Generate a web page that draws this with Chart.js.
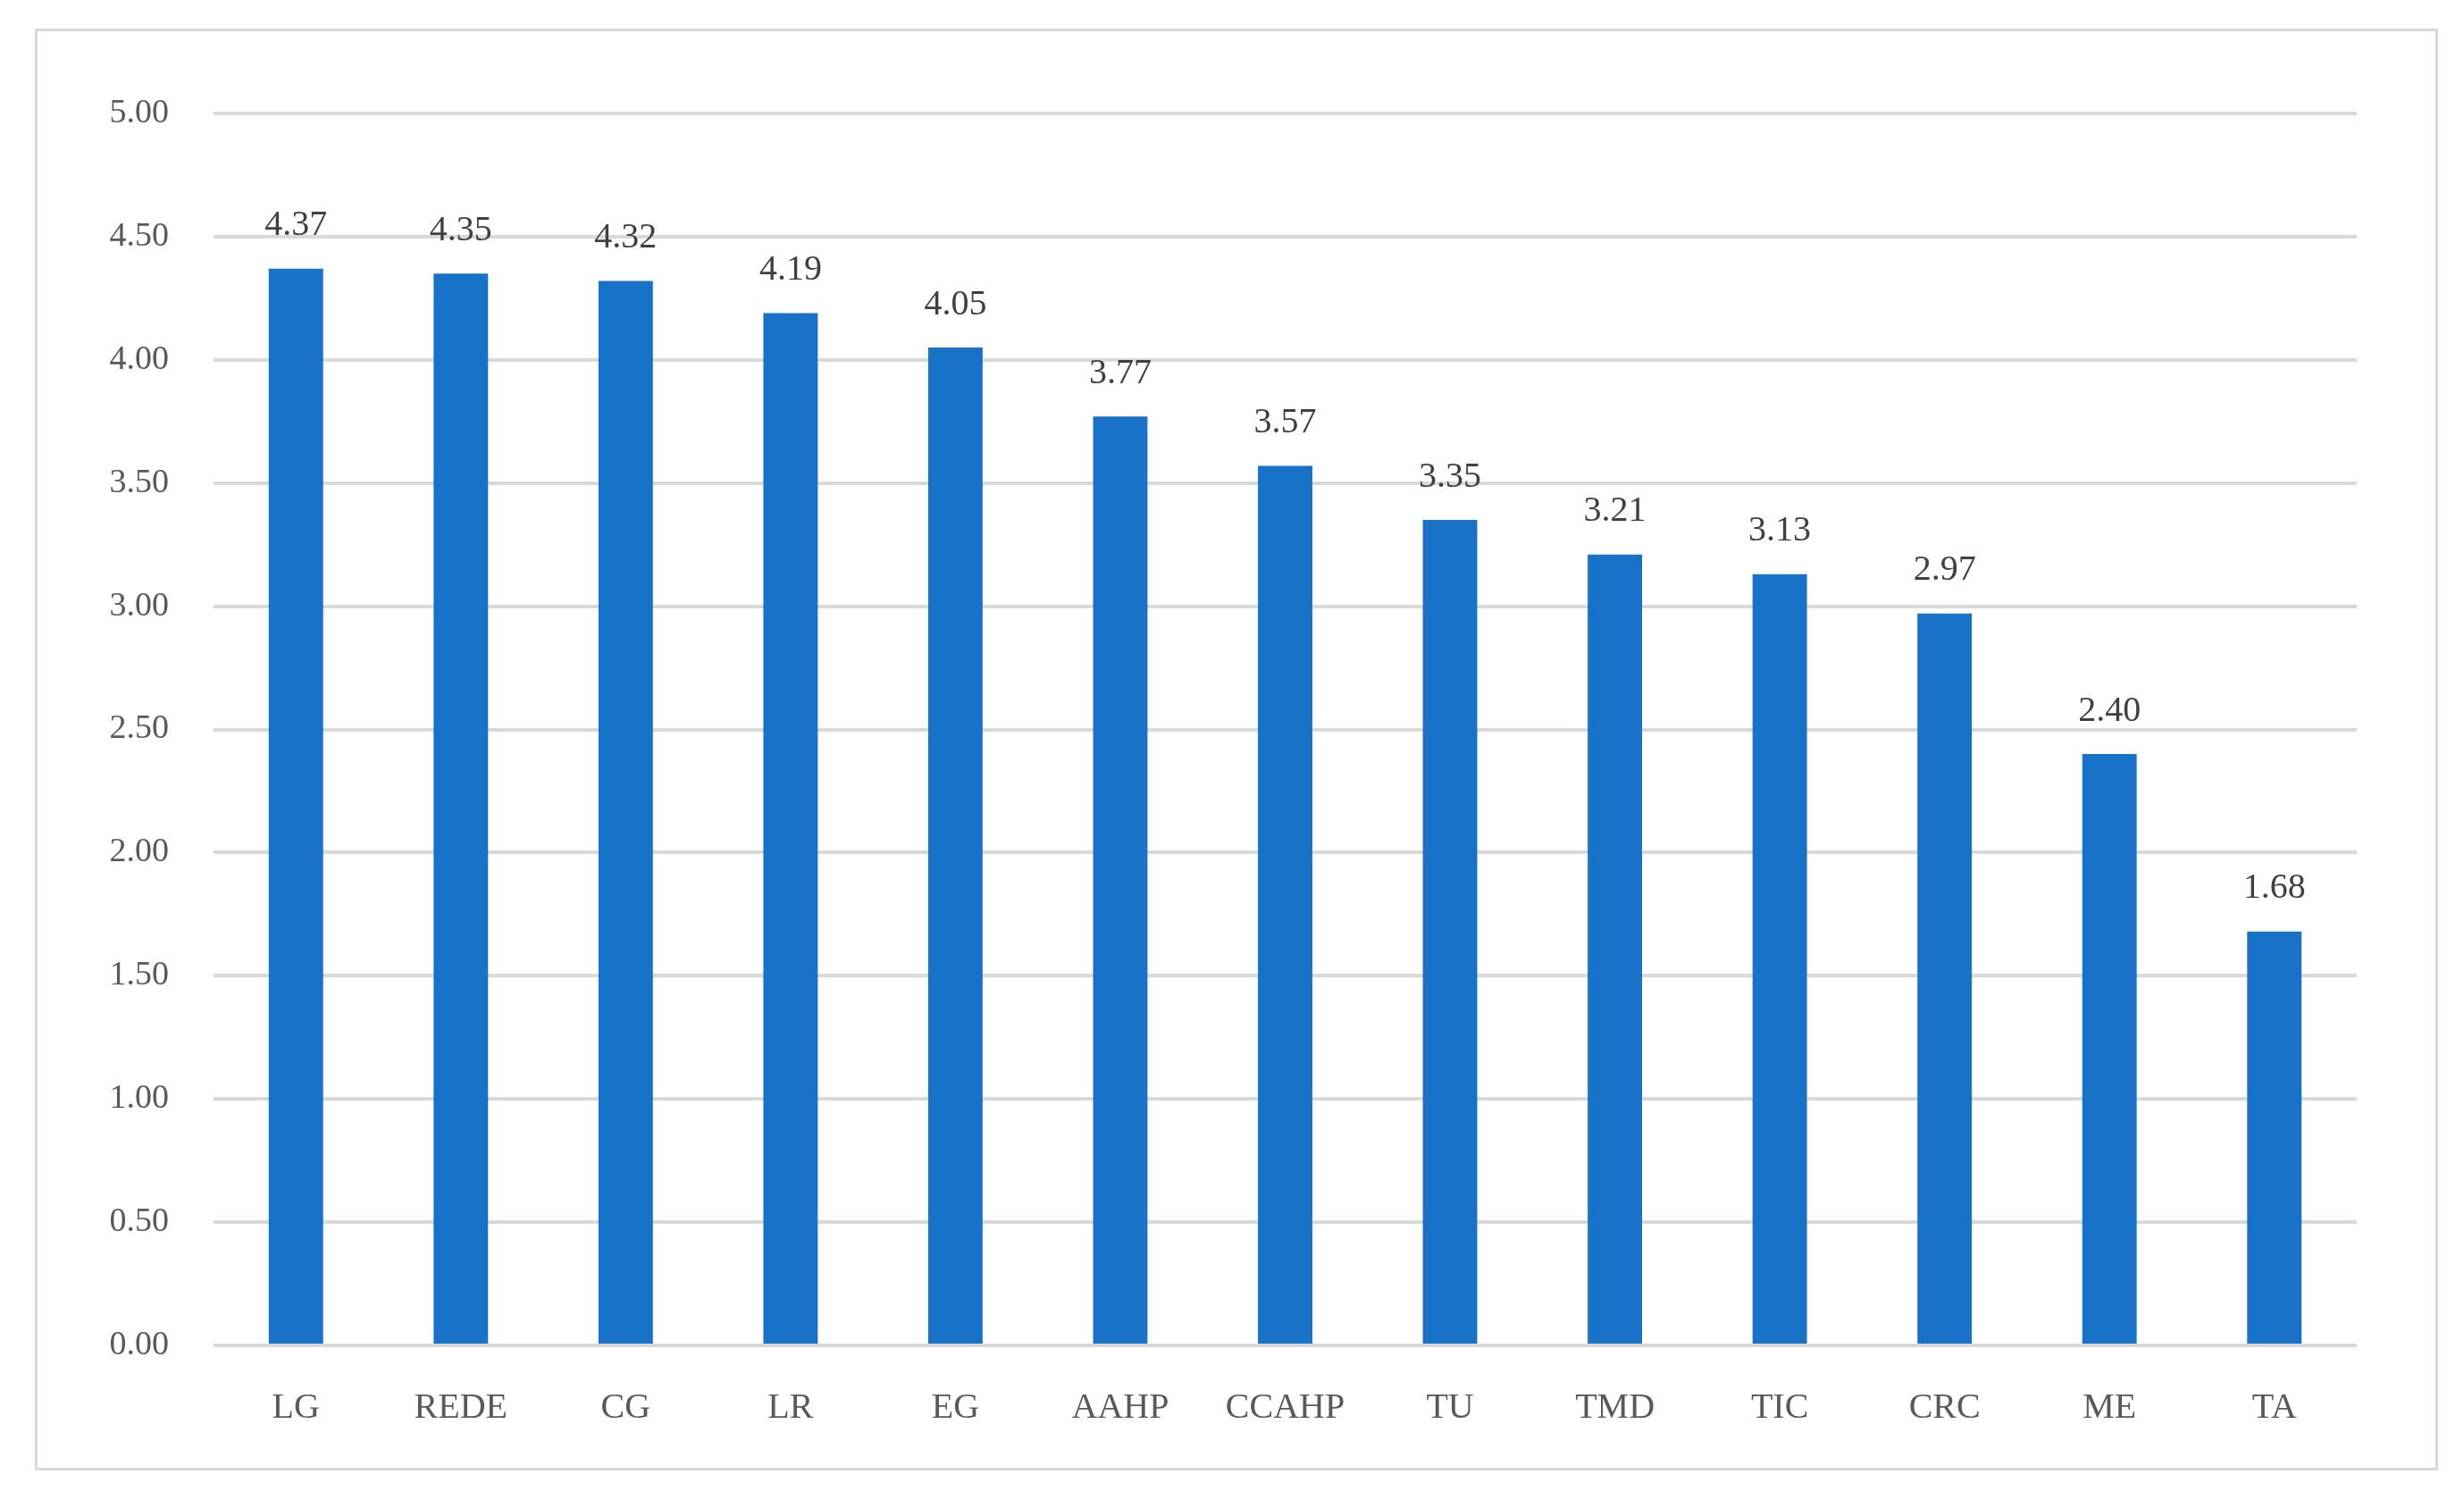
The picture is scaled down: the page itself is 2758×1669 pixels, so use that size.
<!DOCTYPE html>
<html>
<head>
<meta charset="utf-8">
<script src="https://cdn.jsdelivr.net/npm/chart.js@4"></script>
<style>
  body { margin: 0; background: #fff; }
  #wrap { position: relative; width: 2758px; height: 1669px; }
  #frame { position: absolute; left: 39px; top: 32px; width: 2690px; height: 1614px; border: 3px solid #d9d9d9; box-sizing: border-box; }
  canvas { position: absolute; left: 0; top: 0; }
</style>
</head>
<body>
<div id="wrap">
  <div id="frame"></div>
  <canvas id="chart" width="2758" height="1669"></canvas>
</div>
<script>
// categories and values
const categories = ['LG', 'REDE', 'CG', 'LR', 'EG', 'AAHP', 'CCAHP', 'TU', 'TMD', 'TIC', 'CRC', 'ME', 'TA'];
const scores = [4.37, 4.35, 4.32, 4.19, 4.05, 3.77, 3.57, 3.35, 3.21, 3.13, 2.97, 2.40, 1.68];

const font = 'Liberation Serif, Times New Roman, serif';

// draws the value above each bar
const valueLabels = {
    id: 'valueLabels',
    afterDatasetsDraw(chart) {
        const ctx = chart.ctx;
        const meta = chart.getDatasetMeta(0);
        ctx.save();
        ctx.font = '40px ' + font;
        ctx.fillStyle = '#404040';
        ctx.textAlign = 'center';
        ctx.textBaseline = 'bottom';
        meta.data.forEach((bar, i) => {
            ctx.fillText(scores[i].toFixed(2), bar.x, bar.y - 28);
        });
        ctx.restore();
    }
};

new Chart(document.getElementById('chart').getContext('2d'), {
    type: 'bar',
    data: {
        labels: categories,
        datasets: [{
            data: scores,
            backgroundColor: '#1873c8',
            categoryPercentage: 1,
            barPercentage: 0.33
        }]
    },
    options: {
        responsive: false,
        animation: false,
        layout: { padding: { top: 127, right: 120, left: 0, bottom: 0 } },
        plugins: { legend: { display: false }, tooltip: { enabled: false } },
        scales: {
            x: {
                grid: { display: false },
                border: { display: false },
                ticks: { color: '#595959', font: { family: font, size: 40 }, padding: 38 },
                afterFit(s) { s.height = 163; }
            },
            y: {
                min: 0,
                max: 5,
                ticks: {
                    stepSize: 0.5,
                    color: '#595959',
                    font: { family: font, size: 38 },
                    padding: 50,
                    callback: v => v.toFixed(2)
                },
                grid: { color: '#d9d9d9', lineWidth: 4, drawTicks: false },
                border: { display: false },
                afterFit(s) { s.width = 239; }
            }
        }
    },
    plugins: [valueLabels]
});
</script>
</body>
</html>
